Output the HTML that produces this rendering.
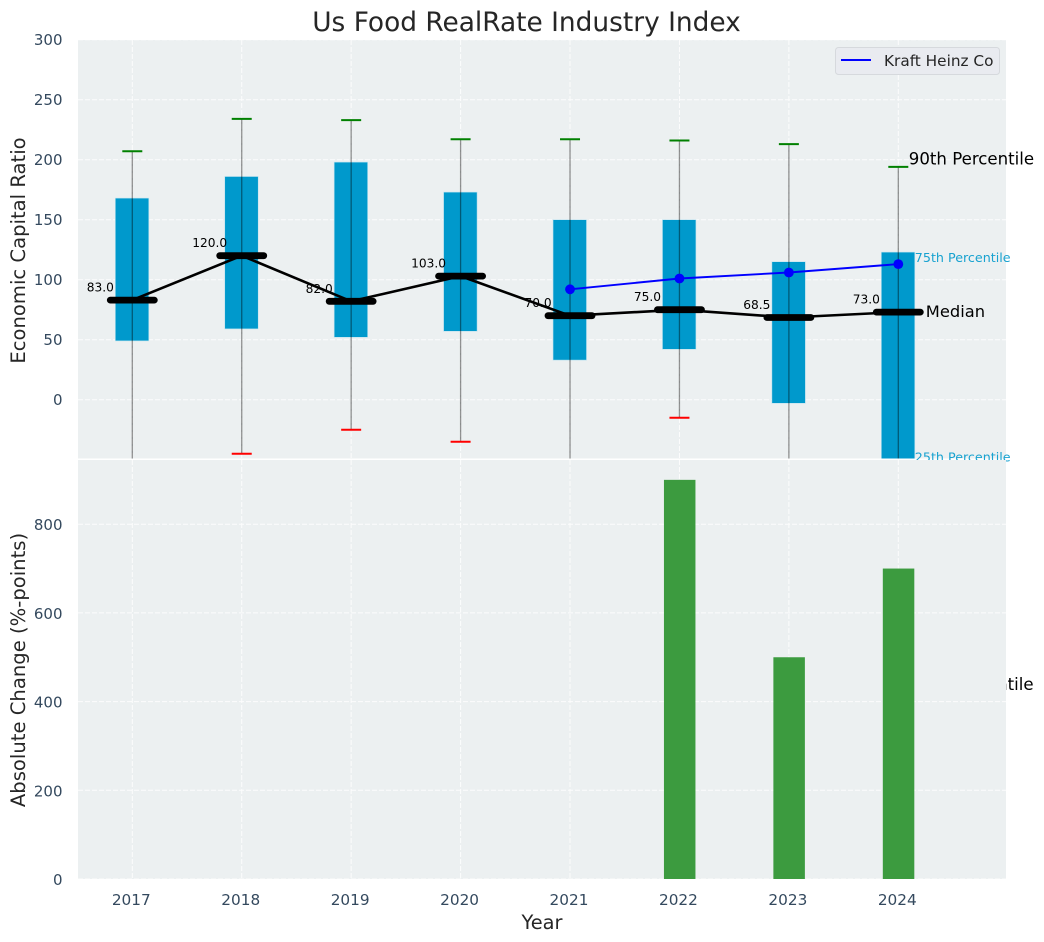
<!DOCTYPE html>
<html>
<head>
<meta charset="utf-8">
<title>Us Food RealRate Industry Index</title>
<style>
html,body{margin:0;padding:0;background:#fff;width:1044px;height:942px;overflow:hidden}
svg{display:block}
text{font-family:"DejaVu Sans","Liberation Sans",sans-serif}
</style>
</head>
<body>
<svg id="chart" xmlns="http://www.w3.org/2000/svg" width="1044" height="942" viewBox="0 0 1044 942"></svg>
<script>
const years = [2017, 2018, 2019, 2020, 2021, 2022, 2023, 2024];
const medians = [83, 120, 82, 103, 70, 75, 68.5, 73];
const p75 = [168, 186, 198, 173, 150, 150, 115, 123];
const p25 = [49, 59, 52, 57, 33, 42, -3, -70];
const p90 = [207, 234, 233, 217, 217, 216, 213, 194];
const p10 = [-70, -45, -25, -35, -70, -15, -70, -70];
const kraftYears = [2021, 2022, 2023, 2024];
const kraftValues = [92, 101, 106, 113];
const changeYears = [2022, 2023, 2024];
const changeValues = [900, 500, 700];
const topTicks = [0, 50, 100, 150, 200, 250, 300];
const bottomTicks = [0, 200, 400, 600, 800];

const NS = 'http://www.w3.org/2000/svg';
const svg = document.getElementById('chart');
const X0 = 78, X1 = 1006, TOP0 = 40, TOP1 = 458.5, BOT0 = 460, BOT1 = 879;
const sx = v => 132.3 + (v - 2017) * 109.43;
const sy = v => 399.7 - v * 1.2;
const by = v => 879 - v * 0.4435;
const TICK = '#34495e', DARK = '#262626';

function make(tag, attrs, parent, content) {
  const el = document.createElementNS(NS, tag);
  for (const k in attrs) el.setAttribute(k, attrs[k]);
  if (content !== undefined) el.textContent = content;
  (parent || svg).appendChild(el);
  return el;
}

const defs = make('defs', {});
const clip = make('clipPath', {id: 'top-clip'}, defs);
make('rect', {x: X0, y: TOP0, width: X1 - X0, height: TOP1 - TOP0}, clip);

/* title */
const title = make('text', {x: 526.5, y: 31, 'font-size': 26.4, fill: DARK, 'text-anchor': 'middle'}, svg, 'Us Food RealRate Industry Index');



/* top panel */
const topBg = make('rect', {x: X0, y: TOP0, width: X1 - X0, height: TOP1 - TOP0, fill: '#ecf0f1'});



const topGrid = make('g', {stroke: '#fff', 'stroke-width': 1, 'stroke-dasharray': '5 2', opacity: 0.85});


topTicks.forEach(t => make('line', {x1: X0, x2: X1, y1: sy(t), y2: sy(t)}, topGrid));
years.forEach(y => make('line', {x1: sx(y), x2: sx(y), y1: TOP0, y2: TOP1}, topGrid));

topTicks.forEach(t => {
  const el = make('text', {x: 62.5, y: sy(t) + 5.5, 'font-size': 15, fill: TICK, 'text-anchor': 'end'}, svg, String(t));
  
  
});

const topLabel = make('text', {transform: 'translate(25,250.5) rotate(-90)', 'font-size': 19.6, fill: DARK, 'text-anchor': 'middle'}, svg, 'Economic Capital Ratio');



const marks = make('g', {'clip-path': 'url(#top-clip)'});



years.forEach((y, i) => {
  const box = make('rect', {x: sx(y) - 17, width: 33.5, y: sy(p75[i]), height: sy(p25[i]) - sy(p75[i]), fill: '#0099cc', stroke: '#bfe3ef', 'stroke-width': 0.6}, marks);
  
  
});
years.forEach((y, i) => {
  const w = make('line', {x1: sx(y), x2: sx(y), y1: sy(p90[i]), y2: sy(p10[i]), stroke: '#000', 'stroke-opacity': 0.42, 'stroke-width': 1.3}, marks);
  
  
  const hi = make('line', {x1: sx(y) - 10, x2: sx(y) + 10, y1: sy(p90[i]), y2: sy(p90[i]), stroke: '#008000', 'stroke-width': 2}, marks);
  
  
  const lo = make('line', {x1: sx(y) - 10, x2: sx(y) + 10, y1: sy(p10[i]), y2: sy(p10[i]), stroke: '#ff0000', 'stroke-width': 2}, marks);
  
  
});

/* printed median values */
years.forEach((y, i) => {
  const el = make('text', {x: sx(y) - 32, y: sy(medians[i]) - 8.5, 'font-size': 12.2, fill: '#000', 'text-anchor': 'middle'}, svg, medians[i].toFixed(1));
  
  
});

const marks2 = make('g', {'clip-path': 'url(#top-clip)'});



const medianLine = make('polyline', {points: years.map((y, i) => sx(y) + ',' + sy(medians[i])).join(' '), fill: 'none', stroke: '#000', 'stroke-width': 2.6}, marks2);



years.forEach((y, i) => {
  const m = make('line', {x1: sx(y) - 22, x2: sx(y) + 22, y1: sy(medians[i]), y2: sy(medians[i]), stroke: '#000', 'stroke-width': 6.8, 'stroke-linecap': 'round'}, marks2);
  
  
});

const kraftLine = make('polyline', {points: kraftYears.map((y, i) => sx(y) + ',' + sy(kraftValues[i])).join(' '), fill: 'none', stroke: '#0000ff', 'stroke-width': 1.9}, marks2);


kraftYears.forEach((y, i) => {
  const c = make('circle', {cx: sx(y), cy: sy(kraftValues[i]), r: 4.9, fill: '#0000ff'}, marks2);
  
  
});

/* percentile annotations (drawn before bottom panel, which covers overflow) */
const lastX = sx(years[years.length - 1]);
const a90 = make('text', {x: lastX + 10.5, y: 164.5, 'font-size': 16.6, fill: '#000'}, svg, '90th Percentile');


const a75 = make('text', {x: lastX + 16.5, y: 262, 'font-size': 12.7, fill: '#0099cc', 'fill-opacity': 0.9}, svg, '75th Percentile');


const aMed = make('text', {x: lastX + 27.5, y: 317, 'font-size': 16.3, fill: '#000'}, svg, 'Median');


const a25 = make('text', {x: lastX + 16.5, y: 461.5, 'font-size': 12.7, fill: '#0099cc', 'fill-opacity': 0.9}, svg, '25th Percentile');


const a10 = make('text', {x: lastX + 10, y: 690, 'font-size': 16.6, fill: '#000'}, svg, '10th Percentile');



/* legend */
const legend = make('g', {});


make('rect', {x: 835.5, y: 47.5, width: 164, height: 27, rx: 3, fill: '#e9ebf0', stroke: '#d6d9dd', 'stroke-width': 1}, legend);
make('line', {x1: 841, x2: 871, y1: 60, y2: 60, stroke: '#0000ff', 'stroke-width': 1.9}, legend);
const legendText = make('text', {x: 884, y: 66, 'font-size': 15.3, fill: DARK}, legend, 'Kraft Heinz Co');



/* bottom panel */
const botBg = make('rect', {x: X0, y: BOT0, width: X1 - X0, height: BOT1 - BOT0, fill: '#ecf0f1'});



const botGrid = make('g', {stroke: '#fff', 'stroke-width': 1, 'stroke-dasharray': '5 2', opacity: 0.85});


bottomTicks.forEach(t => make('line', {x1: X0, x2: X1, y1: by(t), y2: by(t)}, botGrid));
years.forEach(y => make('line', {x1: sx(y), x2: sx(y), y1: BOT0, y2: BOT1}, botGrid));

changeYears.forEach((y, i) => {
  const b = make('rect', {x: sx(y) - 15.5, width: 31.5, y: by(changeValues[i]), height: BOT1 - by(changeValues[i]), fill: '#3c9b3f'});
  
  
});

bottomTicks.forEach(t => {
  const el = make('text', {x: 62.5, y: by(t) + 6, 'font-size': 15, fill: TICK, 'text-anchor': 'end'}, svg, String(t));
  
  
});
years.forEach(y => {
  const el = make('text', {x: sx(y) - 1, y: 905, 'font-size': 15.3, fill: TICK, 'text-anchor': 'middle'}, svg, String(y));
  
  
});

const botLabel = make('text', {transform: 'translate(25,670) rotate(-90)', 'font-size': 19.6, fill: DARK, 'text-anchor': 'middle'}, svg, 'Absolute Change (%-points)');


const xLabel = make('text', {x: 542, y: 929, 'font-size': 19.4, fill: DARK, 'text-anchor': 'middle'}, svg, 'Year');


</script>
</body>
</html>
